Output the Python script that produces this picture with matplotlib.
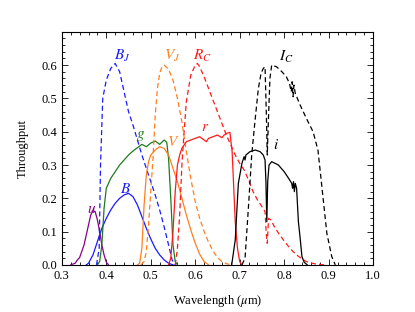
import matplotlib
matplotlib.use("Agg")
import matplotlib.pyplot as plt
from matplotlib.ticker import MultipleLocator

plt.rcParams['font.family'] = ['Liberation Serif', 'DejaVu Serif']
plt.rcParams['mathtext.fontset'] = 'stix'

# ---- data (wavelength in micron, throughput) ----
u_wl = [0.320, 0.330, 0.335, 0.340, 0.350, 0.360, 0.365, 0.370, 0.375, 0.380, 0.385, 0.390, 0.395, 0.400, 0.405]
u_tp = [0.000, 0.005, 0.015, 0.022, 0.060, 0.120, 0.150, 0.163, 0.160, 0.135, 0.100, 0.060, 0.030, 0.008, 0.000]

B_wl = [0.355, 0.360, 0.370, 0.380, 0.390, 0.400, 0.410, 0.420, 0.430, 0.440, 0.450, 0.460, 0.470, 0.480, 0.490, 0.500, 0.510, 0.520, 0.530, 0.540, 0.550]
B_tp = [0.000, 0.005, 0.030, 0.070, 0.110, 0.140, 0.165, 0.185, 0.200, 0.210, 0.215, 0.205, 0.180, 0.145, 0.110, 0.078, 0.050, 0.030, 0.015, 0.005, 0.000]

BJ_wl = [0.378, 0.384, 0.387, 0.392, 0.400, 0.410, 0.420, 0.430, 0.440, 0.450, 0.460, 0.470, 0.480, 0.490, 0.500, 0.510, 0.520, 0.530, 0.540, 0.548, 0.555]
BJ_tp = [0.000, 0.050, 0.300, 0.500, 0.555, 0.590, 0.605, 0.580, 0.520, 0.460, 0.420, 0.375, 0.330, 0.290, 0.250, 0.210, 0.165, 0.115, 0.060, 0.015, 0.000]

g_wl = [0.380, 0.385, 0.390, 0.395, 0.400, 0.410, 0.420, 0.430, 0.440, 0.450, 0.460, 0.470, 0.480, 0.490, 0.500, 0.510, 0.520, 0.530, 0.536, 0.540, 0.545, 0.550, 0.555, 0.560]
g_tp = [0.000, 0.010, 0.060, 0.170, 0.230, 0.260, 0.280, 0.300, 0.315, 0.330, 0.342, 0.352, 0.362, 0.355, 0.366, 0.372, 0.362, 0.375, 0.368, 0.320, 0.200, 0.060, 0.010, 0.000]

V_wl = [0.470, 0.475, 0.480, 0.485, 0.490, 0.495, 0.500, 0.510, 0.520, 0.530, 0.540, 0.550, 0.560, 0.570, 0.580, 0.590, 0.600, 0.610, 0.620, 0.630]
V_tp = [0.000, 0.005, 0.050, 0.180, 0.270, 0.310, 0.330, 0.345, 0.355, 0.350, 0.330, 0.290, 0.250, 0.200, 0.150, 0.105, 0.065, 0.032, 0.010, 0.000]

VJ_wl = [0.478, 0.485, 0.490, 0.495, 0.500, 0.505, 0.510, 0.515, 0.520, 0.525, 0.530, 0.540, 0.550, 0.560, 0.570, 0.580, 0.590, 0.600, 0.610, 0.620, 0.630, 0.640, 0.650, 0.660, 0.670, 0.680]
VJ_tp = [0.000, 0.010, 0.040, 0.120, 0.220, 0.320, 0.450, 0.530, 0.575, 0.595, 0.600, 0.588, 0.555, 0.500, 0.430, 0.340, 0.260, 0.190, 0.140, 0.100, 0.068, 0.042, 0.022, 0.010, 0.004, 0.000]

RC_wl = [0.555, 0.560, 0.565, 0.570, 0.575, 0.580, 0.590, 0.600, 0.605, 0.610, 0.620, 0.630, 0.640, 0.650, 0.660, 0.670, 0.680, 0.690, 0.700, 0.710, 0.720, 0.730, 0.740, 0.750, 0.757, 0.760, 0.762, 0.765, 0.770, 0.780, 0.790, 0.800, 0.810, 0.820, 0.830, 0.840, 0.850, 0.860, 0.870, 0.890]
RC_tp = [0.000, 0.050, 0.150, 0.300, 0.400, 0.490, 0.570, 0.600, 0.605, 0.595, 0.565, 0.530, 0.495, 0.460, 0.425, 0.390, 0.360, 0.330, 0.305, 0.285, 0.255, 0.220, 0.195, 0.175, 0.160, 0.090, 0.065, 0.140, 0.135, 0.110, 0.090, 0.072, 0.055, 0.040, 0.028, 0.018, 0.010, 0.006, 0.003, 0.000]

r_wl = [0.540, 0.545, 0.550, 0.555, 0.560, 0.565, 0.570, 0.580, 0.590, 0.600, 0.610, 0.620, 0.625, 0.630, 0.640, 0.650, 0.660, 0.665, 0.670, 0.678, 0.683, 0.686, 0.690, 0.695, 0.700, 0.705]
r_tp = [0.000, 0.020, 0.100, 0.220, 0.300, 0.330, 0.350, 0.370, 0.375, 0.380, 0.385, 0.375, 0.370, 0.380, 0.385, 0.390, 0.382, 0.390, 0.395, 0.398, 0.340, 0.250, 0.130, 0.050, 0.010, 0.000]

IC_wl = [0.705, 0.712, 0.720, 0.727, 0.735, 0.742, 0.748, 0.753, 0.757, 0.760, 0.762, 0.765, 0.768, 0.772, 0.783, 0.795, 0.805, 0.812, 0.816, 0.818, 0.820, 0.822, 0.825, 0.836, 0.850, 0.865, 0.876, 0.888, 0.896, 0.907, 0.915]
IC_tp = [0.000, 0.020, 0.180, 0.330, 0.440, 0.530, 0.575, 0.590, 0.595, 0.450, 0.330, 0.450, 0.560, 0.600, 0.595, 0.580, 0.565, 0.545, 0.520, 0.550, 0.505, 0.540, 0.515, 0.480, 0.440, 0.400, 0.345, 0.195, 0.095, 0.025, 0.000]

i_wl = [0.682, 0.690, 0.697, 0.705, 0.710, 0.712, 0.714, 0.723, 0.735, 0.746, 0.753, 0.757, 0.759, 0.761, 0.763, 0.766, 0.772, 0.787, 0.800, 0.810, 0.817, 0.819, 0.821, 0.823, 0.825, 0.828, 0.832, 0.836, 0.840, 0.845, 0.852]
i_tp = [0.000, 0.075, 0.245, 0.305, 0.325, 0.315, 0.330, 0.340, 0.345, 0.340, 0.330, 0.315, 0.250, 0.130, 0.250, 0.300, 0.310, 0.300, 0.280, 0.260, 0.245, 0.230, 0.250, 0.220, 0.245, 0.230, 0.130, 0.080, 0.025, 0.008, 0.000]

curves = [
    (u_wl, u_tp, '#8b008b', '-'),
    (B_wl, B_tp, '#1a1aff', '-'),
    (BJ_wl, BJ_tp, '#1a1aff', '--'),
    (g_wl, g_tp, '#1e7b1e', '-'),
    (V_wl, V_tp, '#ff7f1e', '-'),
    (VJ_wl, VJ_tp, '#ff7f1e', '--'),
    (RC_wl, RC_tp, '#ff1a1a', '--'),
    (r_wl, r_tp, '#ff1a1a', '-'),
    (IC_wl, IC_tp, '#000000', '--'),
    (i_wl, i_tp, '#000000', '-'),
]

labels = [
    ('$u$', 0.366, 0.165, '#8b008b'),
    ('$B$', 0.443, 0.228, '#1a1aff'),
    ('$B_J$', 0.436, 0.628, '#1a1aff'),
    ('$g$', 0.477, 0.388, '#1e7b1e'),
    ('$V$', 0.550, 0.370, '#ff7f1e'),
    ('$V_J$', 0.549, 0.628, '#ff7f1e'),
    ('$R_C$', 0.616, 0.628, '#ff1a1a'),
    ('$r$', 0.622, 0.412, '#ff1a1a'),
    ('$I_C$', 0.804, 0.625, '#000000'),
    ('$i$', 0.782, 0.360, '#000000'),
]

fig = plt.figure(figsize=(4.15, 3.12), dpi=100)
ax = fig.add_axes([0.149, 0.151, 0.750, 0.747])

for wl, tp, c, ls in curves:
    ax.plot(wl, tp, color=c, ls=ls, lw=0.9, dashes=(4, 2.5) if ls == '--' else (None, None))

for txt, x, y, c in labels:
    ax.text(x, y, txt, color=c, fontsize=11, ha='center', va='center')

ax.set_xlim(0.3, 1.0)
ax.set_ylim(0.0, 0.7)
ax.set_xticks([0.3, 0.4, 0.5, 0.6, 0.7, 0.8, 0.9, 1.0])
ax.set_yticks([0.0, 0.1, 0.2, 0.3, 0.4, 0.5, 0.6])
ax.xaxis.set_minor_locator(MultipleLocator(0.02))
ax.yaxis.set_minor_locator(MultipleLocator(0.02))
ax.tick_params(which='both', direction='in', top=True, right=True, labelsize=9, width=0.6)
ax.tick_params(which='major', length=4.5)
ax.tick_params(which='minor', length=2.2)
for s in ax.spines.values():
    s.set_linewidth(0.8)

ax.set_xlabel(r'Wavelength ($\mu$m)', fontsize=9, labelpad=8)
ax.set_ylabel('Throughput', fontsize=9, labelpad=9)

fig.savefig('out.png', dpi=100)
